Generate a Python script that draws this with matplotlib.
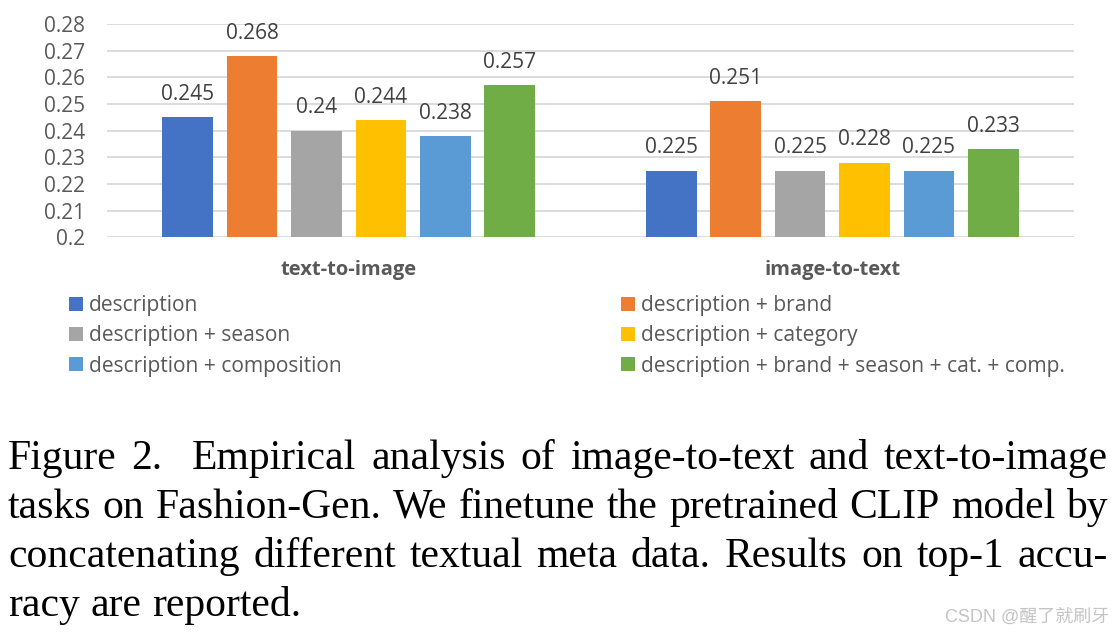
import matplotlib
matplotlib.use("Agg")
import matplotlib.pyplot as plt
import numpy as np

# data
tasks = ["text-to-image", "image-to-text"]
series = ["description", "description + brand", "description + season",
          "description + category", "description + composition",
          "description + brand + season + cat. + comp."]
t2i = [0.245, 0.268, 0.24, 0.244, 0.238, 0.257]
i2t = [0.225, 0.251, 0.225, 0.228, 0.225, 0.233]
value_labels_t2i = ["0.245", "0.268", "0.24", "0.244", "0.238", "0.257"]
value_labels_i2t = ["0.225", "0.251", "0.225", "0.228", "0.225", "0.233"]
colors = ["#4472C4", "#ED7D31", "#A5A5A5", "#FFC000", "#5B9BD5", "#70AD47"]
yticks = [0.2, 0.21, 0.22, 0.23, 0.24, 0.25, 0.26, 0.27, 0.28]
ytick_labels = ["0.2", "0.21", "0.22", "0.23", "0.24", "0.25", "0.26", "0.27", "0.28"]

caption_lines = [
    "Figure 2.  Empirical analysis of image-to-text and text-to-image",
    "tasks on Fashion-Gen. We finetune the pretrained CLIP model by",
    "concatenating different textual meta data. Results on top-1 accu-",
    "racy are reported.",
]

W, H = 1120, 637
CHART_FONT = "Open Sans"
GRAY = "#595959"


def create_plot():
    fig = plt.figure(figsize=(W / 100, H / 100), dpi=100)
    ax = fig.add_axes([107 / W, 1 - 237.5 / H, (1074 - 107) / W, (237.5 - 24) / H])

    x = np.arange(len(tasks))
    step = 0.1333
    width = 0.105
    bars = []
    for i in range(len(series)):
        vals = [t2i[i], i2t[i]]
        pos = x + (i - 2.5) * step
        b = ax.bar(pos, vals, width, color=colors[i], label=series[i], zorder=3)
        bars.append(b)
        for p, v, lab in zip(pos, vals, [value_labels_t2i[i], value_labels_i2t[i]]):
            ax.annotate(lab, (p, v), xytext=(0, 12.5), textcoords="offset points",
                        ha="center", va="baseline", fontsize=15,
                        family=CHART_FONT, color="#404040")

    ax.set_xlim(-0.5, 1.5)
    ax.set_ylim(0.2, 0.28)
    ax.set_yticks(yticks)
    ax.set_yticklabels(ytick_labels, family=CHART_FONT, fontsize=15, color=GRAY)
    ax.set_xticks(x)
    ax.set_xticklabels(tasks, family=CHART_FONT, fontsize=14.5, color=GRAY,
                       fontweight="bold")
    ax.tick_params(axis="y", length=0, pad=16)
    ax.tick_params(axis="x", length=0, pad=16.5)
    for s in ax.spines.values():
        s.set_visible(False)
    ax.grid(axis="y", color="#D9D9D9", linewidth=1.3, zorder=0)
    ax.set_axisbelow(True)

    # legend split into two columns
    col_x = [69 / W, 621 / W]
    groups = [[0, 2, 4], [1, 3, 5]]
    for cx, g in zip(col_x, groups):
        fig.legend([bars[k] for k in g], [series[k] for k in g],
                   loc="center left", bbox_to_anchor=(cx, 1 - 336 / H),
                   frameon=False, borderpad=0, borderaxespad=0,
                   handlelength=0.66, handleheight=0.66, handletextpad=0.3,
                   labelspacing=0.44, labelcolor=GRAY,
                   prop={"family": CHART_FONT, "size": 15.1})

    # caption, justified like the paper
    renderer = fig.canvas.get_renderer()
    x0, x1 = 8, 1108
    baselines = [469, 518, 567, 616]
    for li, (line, yb) in enumerate(zip(caption_lines, baselines)):
        words = line.split()
        texts = [fig.text(0, 0, w, family="Liberation Serif", fontsize=30,
                          color="black", va="baseline", ha="left") for w in words]
        widths = [t.get_window_extent(renderer).width for t in texts]
        weights = [2 if w == "2." else 1 for w in words[:-1]]
        if li < len(caption_lines) - 1:
            gap = (x1 - x0 - sum(widths)) / sum(weights)
        else:
            gap = 10.5
        xp = x0
        for k, (t, w) in enumerate(zip(texts, widths)):
            t.set_position((xp / W, 1 - yb / H))
            if k < len(weights):
                xp += w + gap * weights[k]

    fig.text(1109 / W, 1 - 617 / H, "CSDN @醒了就刷牙",
             family=["Liberation Sans", "Noto Sans CJK SC"], fontsize=13,
             color="#C4C4C4", ha="right", va="center")

    plt.savefig("out.png", dpi=100)


create_plot()
